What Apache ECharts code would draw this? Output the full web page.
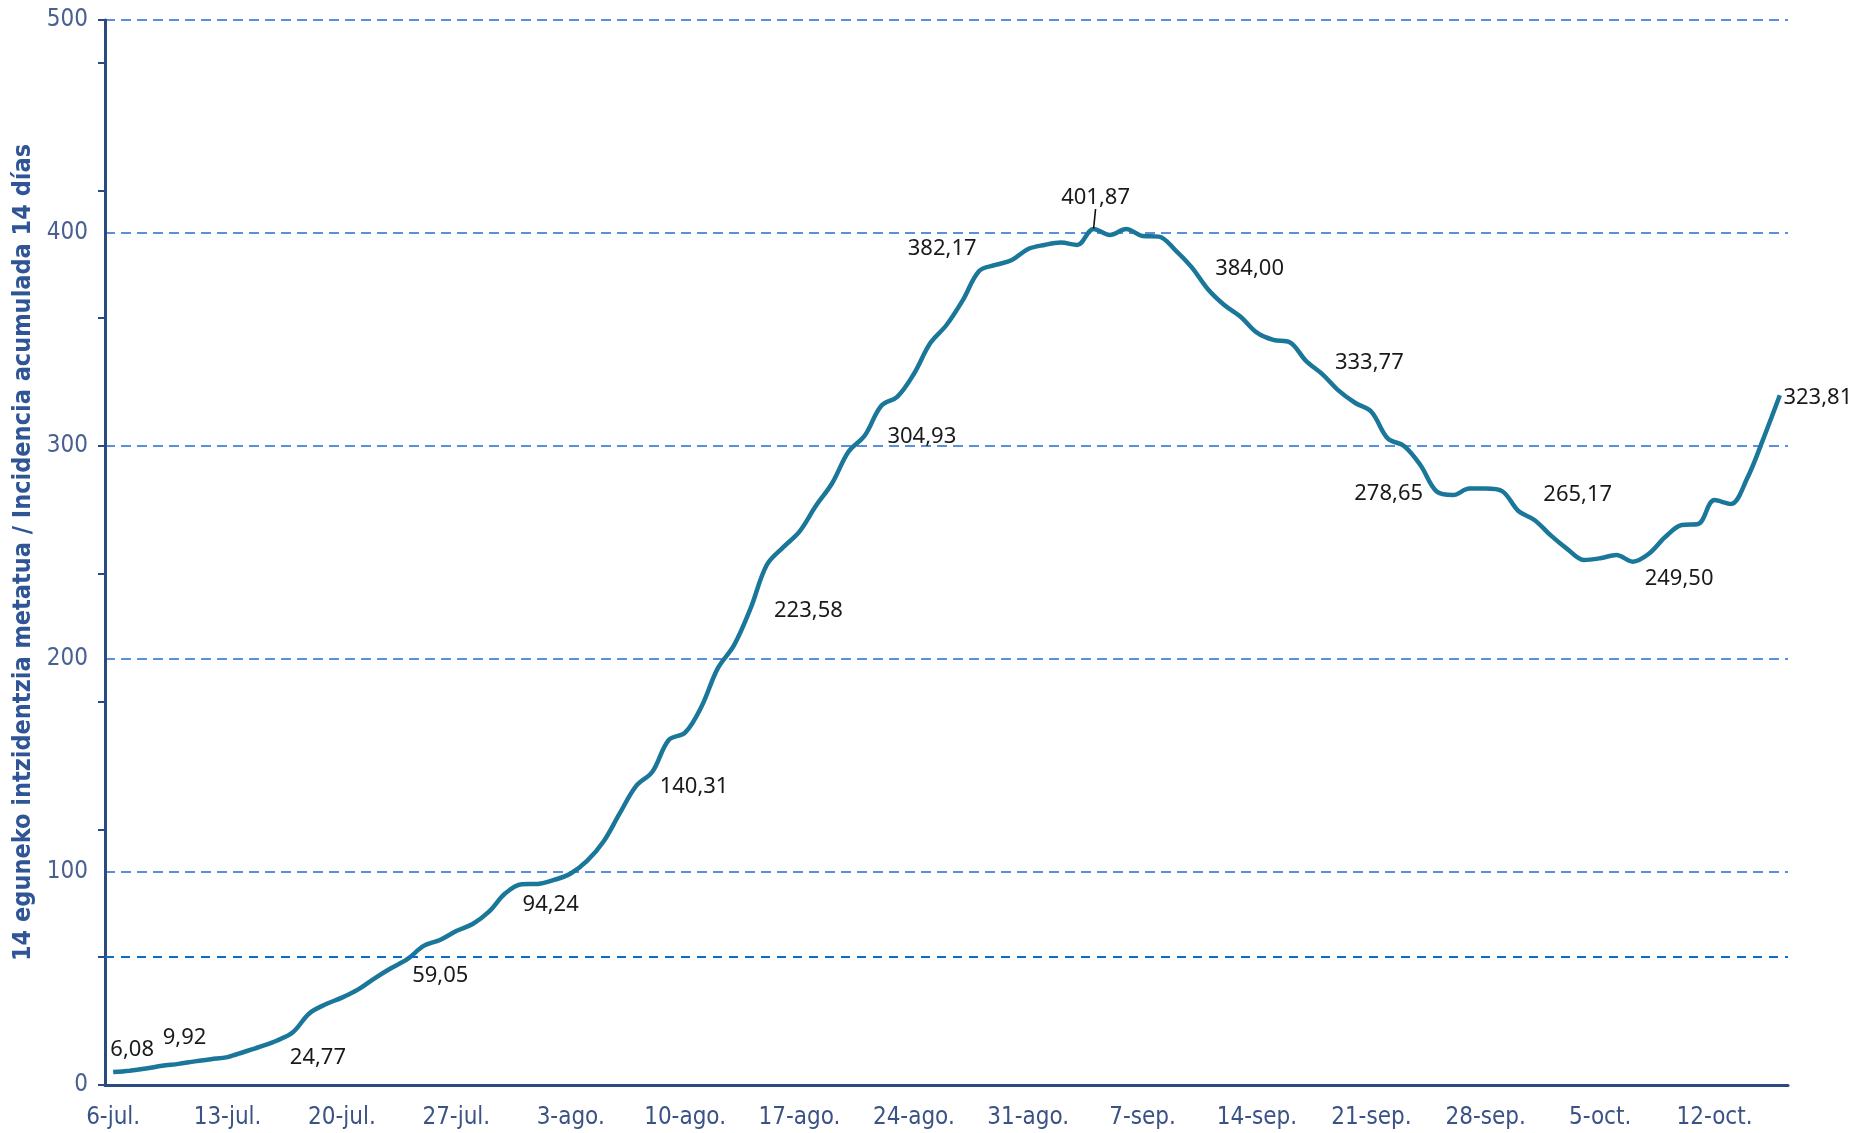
<!DOCTYPE html>
<html>
<head>
<meta charset="utf-8">
<script src="https://cdn.jsdelivr.net/npm/echarts@6/dist/echarts.min.js"></script>
<style>
html,body{margin:0;padding:0;background:#fff;}
#chart{width:1859px;height:1133px;}
</style>
</head>
<body>
<div id="chart"></div>
<script>
// ---- data ----
const categories = [
 '6-jul.','7-jul.','8-jul.','9-jul.','10-jul.','11-jul.','12-jul.','13-jul.','14-jul.','15-jul.','16-jul.','17-jul.','18-jul.','19-jul.','20-jul.','21-jul.','22-jul.','23-jul.','24-jul.','25-jul.','26-jul.','27-jul.','28-jul.','29-jul.','30-jul.','31-jul.',
 '1-ago.','2-ago.','3-ago.','4-ago.','5-ago.','6-ago.','7-ago.','8-ago.','9-ago.','10-ago.','11-ago.','12-ago.','13-ago.','14-ago.','15-ago.','16-ago.','17-ago.','18-ago.','19-ago.','20-ago.','21-ago.','22-ago.','23-ago.','24-ago.','25-ago.','26-ago.','27-ago.','28-ago.','29-ago.','30-ago.','31-ago.',
 '1-sep.','2-sep.','3-sep.','4-sep.','5-sep.','6-sep.','7-sep.','8-sep.','9-sep.','10-sep.','11-sep.','12-sep.','13-sep.','14-sep.','15-sep.','16-sep.','17-sep.','18-sep.','19-sep.','20-sep.','21-sep.','22-sep.','23-sep.','24-sep.','25-sep.','26-sep.','27-sep.','28-sep.','29-sep.','30-sep.',
 '1-oct.','2-oct.','3-oct.','4-oct.','5-oct.','6-oct.','7-oct.','8-oct.','9-oct.','10-oct.','11-oct.','12-oct.','13-oct.','14-oct.','15-oct.','16-oct.'
];
const incidence = [
 6.08, 6.7, 7.7, 9.0, 9.92, 11.1, 12.1, 13.1, 15.5, 18.0,
 20.8, 24.77, 33.6, 37.9, 41.0, 44.9, 50.1, 54.8, 59.05, 65.3,
 68.1, 72.3, 75.6, 81.4, 90.0, 94.24, 94.4, 96.3, 99.3, 105.2,
 114.2, 127.5, 140.31, 147.1, 162.0, 165.4, 177.6, 195.6, 206.5, 223.58,
 244.1, 252.4, 259.8, 271.8, 282.5, 297.3, 304.93, 318.8, 323.2, 333.8,
 348.2, 356.8, 368.5, 382.17, 385.0, 387.3, 392.5, 394.4, 395.5, 394.4,
 401.87, 399.1, 401.9, 398.6, 398.3, 392.0, 384.00, 373.6, 366.2, 360.7,
 353.2, 349.8, 348.7, 340.0, 333.77, 326.0, 320.3, 316.1, 303.6, 300.0,
 291.1, 278.65, 277.0, 280.0, 280.0, 278.8, 269.5, 265.17, 257.9, 251.6,
 246.5, 247.3, 248.8, 245.7, 249.50, 257.4, 262.9, 263.4, 274.6, 272.8,
 284.8, 303.6, 323.81
];
// indices of the points that carry a value label
const labeledIdx = [0, 4, 11, 18, 25, 32, 39, 46, 53, 60, 66, 74, 81, 87, 94, 102];
// index of the label drawn with a leader line
const leaderIdx = [60];
const threshold = [60];
const yTicks = [0, 100, 200, 300, 400, 500];
const yAxisName = '14 eguneko intzidentzia metatua / Incidencia acumulada 14 días';

// label offsets (style only): [dx, dy] from the point to the label centre
const labelOffsets = {
 0:[19,-22], 4:[6,-26], 11:[25,25], 18:[33,17], 25:[29,20], 32:[58,1], 39:[58,2],
 46:[57,1], 53:[-37,-22], 60:[2,-31], 66:[58,2], 74:[47,-11], 81:[-48,2],
 87:[43,-25], 94:[30,25], 102:[38,2]
};

const fmt = v => v.toFixed(2).replace('.', ',');

const seriesData = incidence.map((v, i) => {
  if (labeledIdx.indexOf(i) >= 0) {
    const item = {
      value: v,
      label: {show: true, position: 'inside', formatter: fmt(v)}
    };
    if (leaderIdx.indexOf(i) >= 0) {
      item.labelLine = {show: true, lineStyle: {color: '#111', width: 1.6}};
    }
    return item;
  }
  return v;
});

const NARROW = "'Liberation Sans Narrow', 'Arial Narrow', 'DejaVu Sans Condensed', sans-serif";

const chart = echarts.init(document.getElementById('chart'), null, {renderer: 'canvas'});
chart.setOption({
  animation: false,
  backgroundColor: '#ffffff',
  grid: {left: 105, right: 71, top: 20, bottom: 48, containLabel: false},
  xAxis: {
    type: 'category',
    data: categories,
    boundaryGap: true,
    axisLine: {show: true, lineStyle: {color: '#2B4A80', width: 3}},
    axisTick: {show: false},
    axisLabel: {
      interval: 6,
      margin: 21,
      color: '#3A5285',
      fontFamily: NARROW,
      fontSize: 24
    },
    splitLine: {show: false}
  },
  yAxis: [
    {
      type: 'value',
      min: yTicks[0],
      max: yTicks[yTicks.length - 1],
      interval: 100,
      name: yAxisName,
      nameLocation: 'middle',
      nameRotate: 90,
      nameGap: 63,
      nameTextStyle: {
        color: '#2F5597',
        fontFamily: NARROW,
        fontWeight: 'bold',
        fontSize: 25
      },
      axisLine: {show: true, lineStyle: {color: '#2B4A80', width: 3}},
      axisTick: {show: false},
      axisLabel: {
        margin: 17,
        color: '#4A6090',
        fontFamily: NARROW,
        fontSize: 24
      },
      splitLine: {
        show: true,
        lineStyle: {color: '#5B8EDB', width: 2, type: [10, 6]}
      }
    },
    {
      type: 'value',
      min: 0,
      max: 500,
      interval: 60,
      position: 'left',
      axisLine: {show: false},
      axisTick: {show: true, inside: false, length: 7, lineStyle: {color: '#2B4A80', width: 2}},
      axisLabel: {show: false},
      splitLine: {show: false}
    }
  ],
  series: [{
    type: 'line',
    data: seriesData,
    yAxisIndex: 0,
    smooth: 0.35,
    symbol: 'circle',
    symbolSize: 1,
    showSymbol: true,
    itemStyle: {color: 'rgba(0,0,0,0)'},
    lineStyle: {color: '#1A7799', width: 4.5},
    label: {
      color: '#1a1a1a',
      fontFamily: "'Noto Sans', 'Open Sans', sans-serif",
      fontSize: 22,
      align: 'center',
      verticalAlign: 'middle'
    },
    labelLayout: function (params) {
      const off = labelOffsets[params.dataIndex];
      if (off) {
        return {dx: off[0], dy: off[1]};
      }
      return {};
    },
    markLine: {
      silent: true,
      symbol: 'none',
      label: {show: false},
      lineStyle: {color: '#0B6CC9', width: 2, type: [9, 7]},
      data: threshold.map(t => ({yAxis: t}))
    },
    z: 3
  }]
});
</script>
</body>
</html>
